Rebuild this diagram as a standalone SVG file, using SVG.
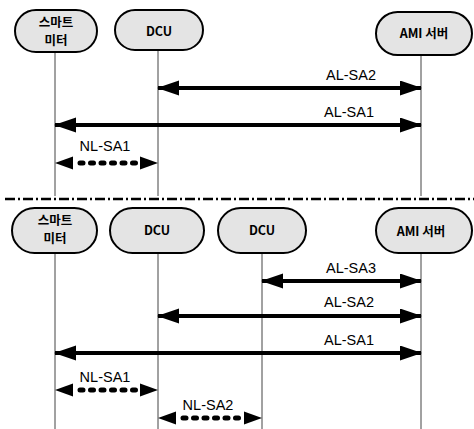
<svg xmlns="http://www.w3.org/2000/svg" width="474" height="429" viewBox="0 0 474 429">
<style>
.node rect{fill:#e4e4e4;stroke:#000;stroke-width:2}
.node text{font-family:"Noto Sans CJK KR","Liberation Sans",sans-serif;font-size:12.5px;font-weight:bold;text-anchor:middle;fill:#000}
.life{stroke:#444;stroke-width:1}
.solid{stroke:#000;stroke-width:4;fill:none}
.dash{stroke:#000;stroke-width:5;fill:none;stroke-dasharray:3 7.5;stroke-linecap:round}
.head{fill:#000}
.lbl{font-family:"Liberation Sans",Arial,sans-serif;font-size:14.5px;text-anchor:middle;fill:#000}
</style>
<defs>
<marker id="ah" markerUnits="userSpaceOnUse" markerWidth="22" markerHeight="16" refX="21" refY="7.5" orient="auto-start-reverse" viewBox="0 0 22 16">
<path d="M0,0 L22,7.5 L0,15 z" fill="#000"/>
</marker>
<path id="dl" d="M0,0 L18,-6.5 L18,6.5 z"/>
<path id="dr" d="M0,0 L-18,-6.5 L-18,6.5 z"/>
</defs>
<g id="lifelines">
<line class="life" x1="55" y1="52" x2="55" y2="196"/>
<line class="life" x1="158" y1="50" x2="158" y2="196"/>
<line class="life" x1="421" y1="55" x2="421" y2="196"/>
<line class="life" x1="55" y1="253" x2="55" y2="429"/>
<line class="life" x1="158" y1="253" x2="158" y2="429"/>
<line class="life" x1="262" y1="253" x2="262" y2="429"/>
<line class="life" x1="421" y1="253" x2="421" y2="429"/>
</g>
<line id="separator" x1="5" y1="199" x2="474" y2="199" stroke="#000" stroke-width="2.5" stroke-dasharray="10 3 2 3"/>
<g id="n1" class="node"><rect x="15" y="10" width="82" height="42" rx="21"/><text x="56" y="27">스마트</text><text x="56" y="45">미터</text></g>
<g id="n2" class="node"><rect x="115" y="10" width="88" height="40" rx="20"/><text x="159" y="36">DCU</text></g>
<g id="n3" class="node"><rect x="376" y="12" width="96" height="43" rx="21.5"/><text x="424" y="38">AMI 서버</text></g>
<g id="n4" class="node"><rect x="12" y="208" width="85" height="45" rx="22.5"/><text x="55" y="225">스마트</text><text x="55" y="243">미터</text></g>
<g id="n5" class="node"><rect x="110" y="208" width="94" height="45" rx="22.5"/><text x="157" y="235">DCU</text></g>
<g id="n6" class="node"><rect x="218" y="208" width="88" height="45" rx="22.5"/><text x="262" y="235">DCU</text></g>
<g id="n7" class="node"><rect x="376" y="208" width="96" height="45" rx="22.5"/><text x="421" y="236">AMI 서버</text></g>
<g id="connectors">
<line class="solid" x1="158" y1="88" x2="421" y2="88" marker-start="url(#ah)" marker-end="url(#ah)"/>
<line class="solid" x1="55" y1="125" x2="421" y2="125" marker-start="url(#ah)" marker-end="url(#ah)"/>
<line class="dash" x1="80" y1="163" x2="137" y2="163"/>
<use href="#dl" class="head" x="55" y="163"/><use href="#dr" class="head" x="158" y="163"/>
<line class="solid" x1="262" y1="281" x2="421" y2="281" marker-start="url(#ah)" marker-end="url(#ah)"/>
<line class="solid" x1="158" y1="316" x2="421" y2="316" marker-start="url(#ah)" marker-end="url(#ah)"/>
<line class="solid" x1="55" y1="353" x2="421" y2="353" marker-start="url(#ah)" marker-end="url(#ah)"/>
<line class="dash" x1="80" y1="390" x2="137" y2="390"/>
<use href="#dl" class="head" x="55" y="390"/><use href="#dr" class="head" x="158" y="390"/>
<line class="dash" x1="183" y1="418" x2="240" y2="418"/>
<use href="#dl" class="head" x="158" y="418"/><use href="#dr" class="head" x="262" y="418"/>
<text class="lbl" x="351" y="80">AL-SA2</text>
<text class="lbl" x="349" y="117">AL-SA1</text>
<text class="lbl" x="105" y="151">NL-SA1</text>
<text class="lbl" x="351" y="273">AL-SA3</text>
<text class="lbl" x="349" y="307">AL-SA2</text>
<text class="lbl" x="349" y="345">AL-SA1</text>
<text class="lbl" x="105" y="382">NL-SA1</text>
<text class="lbl" x="208" y="410">NL-SA2</text>
</g>
</svg>
